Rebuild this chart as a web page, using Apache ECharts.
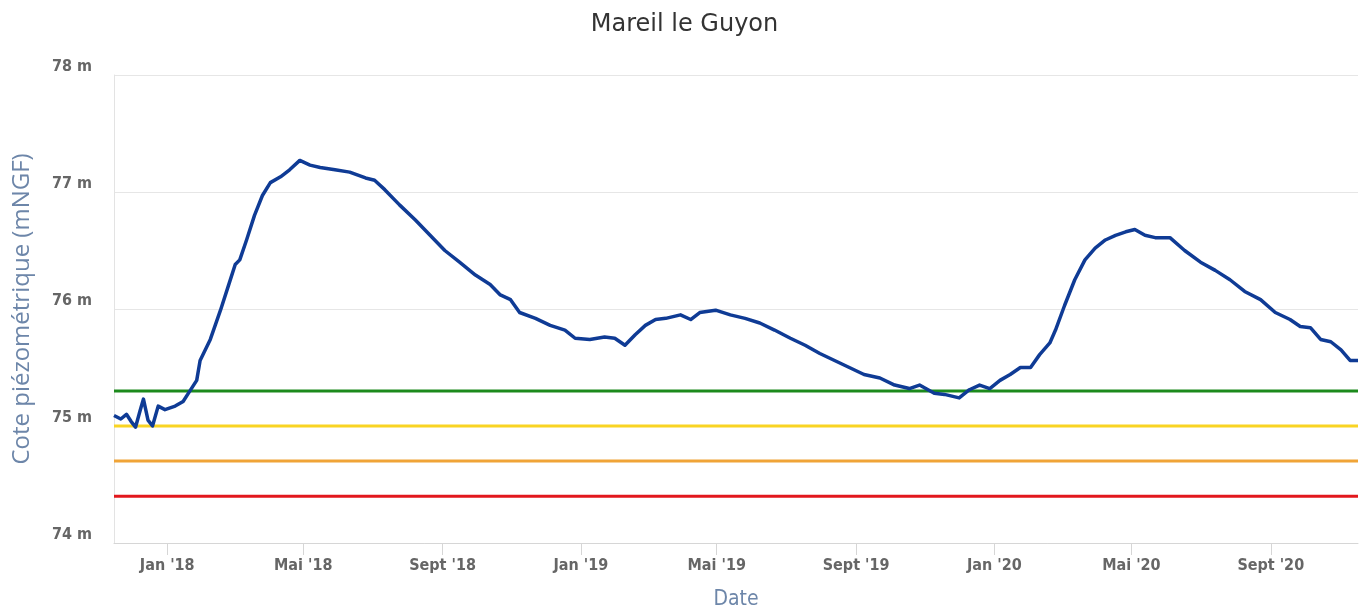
<!DOCTYPE html>
<html><head><meta charset="utf-8">
<script src="https://cdn.jsdelivr.net/npm/echarts@6/dist/echarts.min.js"></script>
<style>html,body{margin:0;padding:0;background:#fff}#c{width:1369px;height:614px}</style>
</head><body><div id="c"></div>
<script>
const chartTitle = 'Mareil le Guyon';
const yAxisTitle = 'Cote piézométrique (mNGF)';
const xAxisTitle = 'Date';
const xMin = '2017-11-15';
const xMax = '2020-11-17';
const dates = [
'2017-11-15','2017-11-21','2017-11-26','2017-11-30','2017-12-04','2017-12-08','2017-12-11','2017-12-15','2017-12-19','2017-12-24','2017-12-30',
'2018-01-08','2018-01-15','2018-01-21','2018-01-27','2018-01-30','2018-02-08','2018-02-17','2018-02-24','2018-03-02','2018-03-06','2018-03-12',
'2018-03-19','2018-03-26','2018-04-02','2018-04-11','2018-04-19','2018-04-28','2018-05-07','2018-05-16','2018-05-29','2018-06-11','2018-06-25',
'2018-07-03','2018-07-12','2018-07-25','2018-08-08','2018-08-21','2018-09-03','2018-09-16','2018-09-30','2018-10-13','2018-10-22','2018-10-31',
'2018-11-08','2018-11-22','2018-12-05','2018-12-18','2018-12-27','2019-01-09','2019-01-22','2019-01-31','2019-02-09','2019-02-18','2019-02-27',
'2019-03-08','2019-03-17','2019-03-30','2019-04-08','2019-04-16','2019-04-30','2019-05-13','2019-05-26','2019-06-08','2019-06-21','2019-07-05',
'2019-07-18','2019-07-31','2019-08-13','2019-08-26','2019-09-08','2019-09-22','2019-10-05','2019-10-18','2019-10-27','2019-11-09','2019-11-18',
'2019-12-01','2019-12-10','2019-12-19','2019-12-28','2020-01-06','2020-01-15','2020-01-24','2020-02-02','2020-02-10','2020-02-19','2020-02-24',
'2020-03-03','2020-03-12','2020-03-21','2020-03-30','2020-04-08','2020-04-17','2020-04-26','2020-05-04','2020-05-13','2020-05-22','2020-06-04',
'2020-06-17','2020-07-01','2020-07-14','2020-07-27','2020-08-09','2020-08-23','2020-09-05','2020-09-18','2020-09-27','2020-10-06','2020-10-15',
'2020-10-24','2020-11-02','2020-11-10','2020-11-17'
];
const levels = [
75.09,75.06,75.10,75.04,74.99,75.13,75.23,75.05,75.00,75.17,75.14,
75.17,75.21,75.30,75.39,75.56,75.74,75.99,76.20,76.38,76.42,76.59,
76.80,76.97,77.08,77.13,77.19,77.27,77.23,77.21,77.19,77.17,77.12,
77.10,77.02,76.89,76.76,76.63,76.50,76.40,76.29,76.21,76.12,76.08,
75.97,75.92,75.86,75.82,75.75,75.74,75.76,75.75,75.69,75.78,75.86,
75.91,75.92,75.95,75.91,75.97,75.99,75.95,75.92,75.88,75.82,75.75,
75.69,75.62,75.56,75.50,75.44,75.41,75.35,75.32,75.35,75.28,75.27,
75.24,75.31,75.35,75.32,75.39,75.44,75.50,75.50,75.61,75.71,75.82,
76.03,76.25,76.42,76.52,76.59,76.63,76.66,76.68,76.63,76.61,76.61,
76.50,76.40,76.33,76.25,76.15,76.08,75.97,75.91,75.85,75.84,75.74,
75.72,75.65,75.56,75.56
];
const thresholdValues = [75.3, 75.0, 74.7, 74.4];
const thresholdColors = ['#1c8a1c', '#f9d423', '#f0a437', '#e2171c'];
const tickDates = ['2018-01-01','2018-05-01','2018-09-01','2019-01-01','2019-05-01','2019-09-01','2020-01-01','2020-05-01','2020-09-01'];
const tickLabels = ["Jan '18","Mai '18","Sept '18","Jan '19","Mai '19","Sept '19","Jan '20","Mai '20","Sept '20"];

const toT = d => Date.UTC(+d.slice(0, 4), +d.slice(5, 7) - 1, +d.slice(8, 10));
const tickTimes = tickDates.map(toT);
const labelFor = {};
tickTimes.forEach((t, i) => { labelFor[t] = tickLabels[i]; });

const series = thresholdValues.map((v, i) => ({
  type: 'line', data: [[toT(xMin), v], [toT(xMax), v]], showSymbol: false, silent: true,
  lineStyle: { color: thresholdColors[i], width: 3 }, z: 2
}));
series.push({
  type: 'line', data: dates.map((d, i) => [toT(d), levels[i]]), showSymbol: false,
  lineStyle: { color: '#0f3b95', width: 3.5, join: 'round' }, z: 3
});

const chart = echarts.init(document.getElementById('c'), null, { renderer: 'canvas' });
chart.setOption({
  animation: false,
  backgroundColor: '#fff',
  title: { text: chartTitle, left: 'center', top: 8,
    textStyle: { fontFamily: 'DejaVu Sans', fontSize: 24, fontWeight: 'normal', color: '#333' } },
  grid: { left: 114, right: 11, top: 75, bottom: 71, outerBoundsMode: 'none', containLabel: false },
  xAxis: {
    type: 'value', min: toT(xMin), max: toT(xMax),
    name: xAxisTitle, nameLocation: 'middle', nameGap: 46,
    nameTextStyle: { fontFamily: 'DejaVu Sans Condensed', fontSize: 21, color: '#6d86a9' },
    axisLine: { show: true, lineStyle: { color: '#d6d6d6', width: 1 } },
    axisTick: { show: true, length: 12, customValues: tickTimes, lineStyle: { color: '#d6d6d6' } },
    axisLabel: { customValues: tickTimes, formatter: v => labelFor[v] || '', margin: 15,
      fontFamily: 'DejaVu Sans Condensed', fontWeight: 'bold', fontSize: 16, color: '#666' },
    splitLine: { show: false }
  },
  yAxis: {
    type: 'value', min: 74, max: 78, interval: 1,
    name: yAxisTitle, nameLocation: 'middle', nameGap: 80,
    nameTextStyle: { fontFamily: 'Open Sans', fontSize: 24, color: '#6d86a9' },
    axisLine: { show: true, lineStyle: { color: '#e3e3e3' } },
    axisTick: { show: false },
    axisLabel: { formatter: '{value} m', margin: 22, verticalAlign: 'bottom', lineHeight: 16,
      fontFamily: 'DejaVu Sans Condensed', fontWeight: 'bold', fontSize: 16, color: '#666' },
    splitLine: { show: true, lineStyle: { color: '#e6e6e6' } }
  },
  series: series
});
</script>
</body></html>
